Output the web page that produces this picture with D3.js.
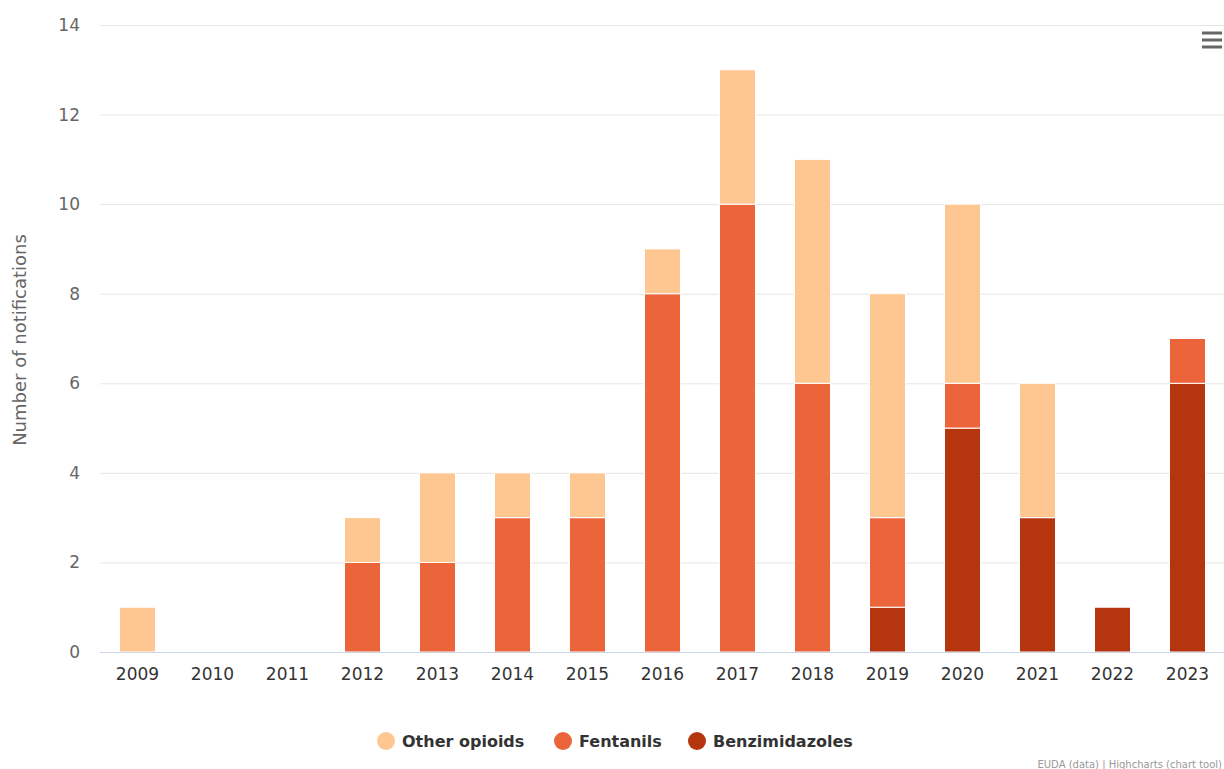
<!DOCTYPE html>
<html><head><meta charset="utf-8">
<script src="https://cdn.jsdelivr.net/npm/d3@7"></script>
<style>body{margin:0;background:#fff;}svg{display:block;font-family:"DejaVu Sans",sans-serif;}</style>
</head><body>
<svg id="c" width="1224" height="769"></svg>
<script>
const years = ["2009","2010","2011","2012","2013","2014","2015","2016","2017","2018","2019","2020","2021","2022","2023"];
const otherOpioids   = [1,0,0,1,2,1,1,1,3,5,5,4,3,0,0];
const fentanils      = [0,0,0,2,2,3,3,8,10,6,2,1,0,0,1];
const benzimidazoles = [0,0,0,0,0,0,0,0,0,0,1,5,3,1,6];
const yTicks = [0,2,4,6,8,10,12,14];
const seriesNames = ["Benzimidazoles","Fentanils","Other opioids"];
const colors = {"Other opioids":"#fec791","Fentanils":"#ec643a","Benzimidazoles":"#b5350f"};

const svg = d3.select("#c");
const L=100, R=1225, T=25, B=652;
const x = d3.scaleBand().domain(years).range([L,R]).paddingInner(0.52).paddingOuter(0.26);
const y = d3.scaleLinear().domain([0,14]).range([B,T]);

svg.append("g").selectAll("line").data(yTicks.filter(d=>d>0)).join("line")
  .attr("x1",L).attr("x2",R).attr("y1",d=>y(d)+0.5).attr("y2",d=>y(d)+0.5)
  .attr("stroke","#e6e6e6");

svg.append("g").selectAll("text").data(yTicks).join("text")
  .attr("x",80).attr("y",d=>y(d)+6).attr("text-anchor","end")
  .attr("fill","#666").attr("font-size",17).text(d=>d);

const table = years.map((yr,i)=>({year:yr,"Other opioids":otherOpioids[i],"Fentanils":fentanils[i],"Benzimidazoles":benzimidazoles[i]}));
const stack = d3.stack().keys(seriesNames)(table);
svg.append("g").selectAll("g").data(stack).join("g")
  .attr("fill",d=>colors[d.key])
  .selectAll("rect").data(d=>d.filter(p=>p[1]>p[0])).join("rect")
  .attr("x",d=>x(d.data.year)).attr("width",x.bandwidth())
  .attr("y",d=>y(d[1])).attr("height",d=>y(d[0])-y(d[1]))
  .attr("stroke","#fff").attr("stroke-width",1);

svg.append("line").attr("x1",L).attr("x2",R).attr("y1",B+0.5).attr("y2",B+0.5).attr("stroke","#ccd6eb");
svg.append("g").selectAll("text").data(years).join("text")
  .attr("x",d=>x(d)+x.bandwidth()/2).attr("y",680).attr("text-anchor","middle")
  .attr("fill","#333").attr("font-size",17).text(d=>d);

svg.append("text").attr("transform","translate(26,340) rotate(-90)").attr("text-anchor","middle")
  .attr("fill","#666").attr("font-size",18).text("Number of notifications");

const legendItems = [{name:"Other opioids",cx:386},{name:"Fentanils",cx:563},{name:"Benzimidazoles",cx:697}];
const lg = svg.append("g");
legendItems.forEach(it=>{
  lg.append("circle").attr("cx",it.cx).attr("cy",741).attr("r",9).attr("fill",colors[it.name]);
  lg.append("text").attr("x",it.cx+16).attr("y",747).attr("fill","#333").attr("font-size",16)
    .attr("font-weight","bold").text(it.name);
});

[33,40,47].forEach(yy=>svg.append("line").attr("x1",1202).attr("x2",1222).attr("y1",yy).attr("y2",yy)
  .attr("stroke","#666").attr("stroke-width",3));

svg.append("text").attr("x",1222).attr("y",768).attr("text-anchor","end").attr("fill","#999").attr("font-size",10)
  .text("EUDA (data) | Highcharts (chart tool)");
</script>
</body></html>
